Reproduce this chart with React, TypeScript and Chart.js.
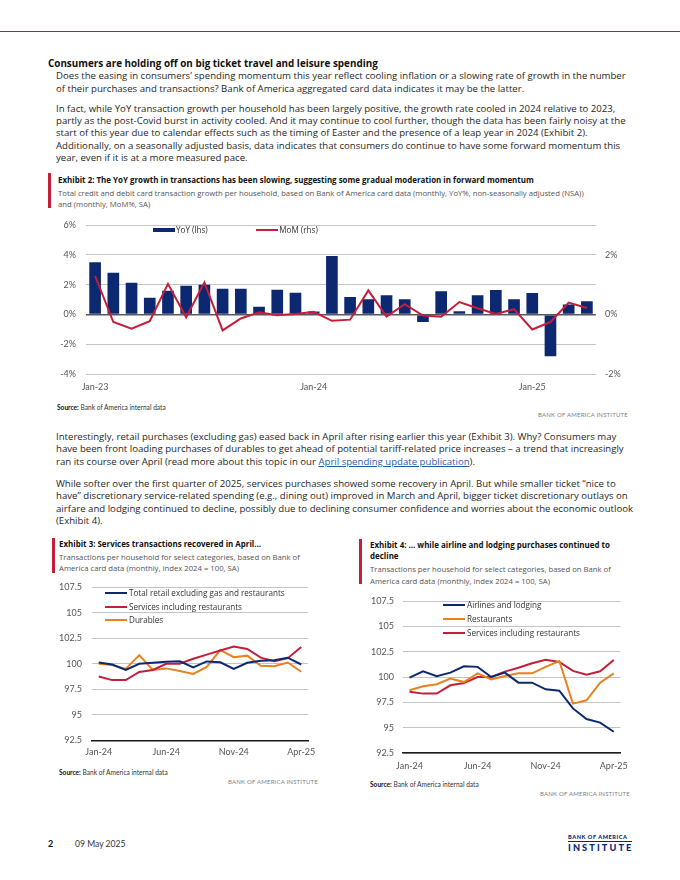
import React, { useEffect, useMemo, useRef } from 'react';
import { Chart, registerables } from 'chart.js';

Chart.register(...registerables);

const FONT = 'Lato, "Noto Sans", sans-serif';
const TFONT = '"Open Sans", "Noto Sans", sans-serif';
const NAVY = '#0b2870';
const RED = '#c41e3a';
const ORANGE = '#e8821e';
const GRID = '#c4c4c4';
const TICK = '#555555';

// ---------- Exhibit 2 data ----------
const ex2Months = [
  'Jan-23', 'Feb-23', 'Mar-23', 'Apr-23', 'May-23', 'Jun-23', 'Jul-23', 'Aug-23', 'Sep-23', 'Oct-23', 'Nov-23', 'Dec-23',
  'Jan-24', 'Feb-24', 'Mar-24', 'Apr-24', 'May-24', 'Jun-24', 'Jul-24', 'Aug-24', 'Sep-24', 'Oct-24', 'Nov-24', 'Dec-24',
  'Jan-25', 'Feb-25', 'Mar-25', 'Apr-25',
];
const ex2YoY = [3.5, 2.8, 2.13, 1.13, 1.6, 1.93, 2.0, 1.73, 1.73, 0.53, 1.67, 1.47, 0.2, 3.93, 1.17, 1.03, 1.3, 1.03, -0.49, 1.57, 0.22, 1.3, 1.64, 1.03, 1.44, -2.79, 0.67, 0.9];
const ex2MoM = [1.3, -0.25, -0.47, -0.22, 1.03, -0.09, 1.08, -0.53, -0.13, 0.08, -0.02, 0.02, 0.09, -0.21, -0.17, 0.81, -0.07, 0.35, -0.03, -0.07, 0.42, 0.21, 0.02, 0.18, -0.5, -0.25, 0.4, 0.22];
const ex2LeftTicks = [-4, -2, 0, 2, 4, 6];
const ex2RightTicks = [-2, 0, 2];

// ---------- Exhibits 3 & 4 data ----------
const idxMonths = [
  'Jan-24', 'Feb-24', 'Mar-24', 'Apr-24', 'May-24', 'Jun-24', 'Jul-24', 'Aug-24', 'Sep-24', 'Oct-24', 'Nov-24', 'Dec-24',
  'Jan-25', 'Feb-25', 'Mar-25', 'Apr-25',
];
const ex3Retail = [100.13, 99.93, 99.4, 100.0, 100.1, 100.2, 100.25, 99.65, 100.23, 100.15, 99.5, 100.1, 100.3, 100.35, 100.6, 99.93];
const ex3Services = [98.75, 98.4, 98.4, 99.2, 99.4, 100.0, 100.0, 100.5, 100.9, 101.3, 101.7, 101.45, 100.6, 100.25, 100.55, 101.65];
const ex3Durables = [100.0, 99.87, 99.5, 100.85, 99.4, 99.55, 99.3, 99.0, 99.7, 101.35, 100.65, 100.8, 99.8, 99.77, 100.13, 99.22];

const ex4Airlines = [99.93, 100.56, 100.07, 100.43, 101.05, 101.0, 100.0, 100.43, 99.44, 99.44, 98.78, 98.65, 96.9, 95.85, 95.5, 94.6];
const ex4Restaurants = [98.7, 99.08, 99.28, 99.84, 99.5, 100.36, 99.77, 100.1, 100.36, 100.36, 101.0, 101.58, 97.37, 97.7, 99.44, 100.36];
const ex4Services = [98.55, 98.36, 98.36, 99.18, 99.4, 100.0, 100.0, 100.53, 100.92, 101.35, 101.7, 101.48, 100.6, 100.23, 100.56, 101.68];

const idxMin = 92.5;
const idxMax = 107.5;
const idxStep = 2.5;

// ---------- Text ----------
const HEADING = 'Consumers are holding off on big ticket travel and leisure spending';
const P1 = [
  'Does the easing in consumers\u2019 spending momentum this year reflect cooling inflation or a slowing rate of growth in the number',
  'of their purchases and transactions? Bank of America aggregated card data indicates it may be the latter.',
];
const P2 = [
  'In fact, while YoY transaction growth per household has been largely positive, the growth rate cooled in 2024 relative to 2023,',
  'partly as the post-Covid burst in activity cooled. And it may continue to cool further, though the data has been fairly noisy at the',
  'start of this year due to calendar effects such as the timing of Easter and the presence of a leap year in 2024 (Exhibit 2).',
  'Additionally, on a seasonally adjusted basis, data indicates that consumers do continue to have some forward momentum this',
  'year, even if it is at a more measured pace.',
];
const P3 = [
  'Interestingly, retail purchases (excluding gas) eased back in April after rising earlier this year (Exhibit 3). Why? Consumers may',
  'have been front loading purchases of durables to get ahead of potential tariff-related price increases \u2013 a trend that increasingly',
];
const P3_END_A = 'ran its course over April (read more about this topic in our ';
const P3_LINK = 'April spending update publication';
const P3_END_B = ').';
const P4 = [
  'While softer over the first quarter of 2025, services purchases showed some recovery in April. But while smaller ticket \u201cnice to',
  'have\u201d discretionary service-related spending (e.g., dining out) improved in March and April, bigger ticket discretionary outlays on',
  'airfare and lodging continued to decline, possibly due to declining consumer confidence and worries about the economic outlook',
  '(Exhibit 4).',
];
const EX2_TITLE = 'Exhibit 2: The YoY growth in transactions has been slowing, suggesting some gradual moderation in forward momentum';
const EX2_SUB = [
  'Total credit and debit card transaction growth per household, based on Bank of America card data (monthly, YoY%, non-seasonally adjusted (NSA))',
  'and (monthly, MoM%, SA)',
];
const EX3_TITLE = 'Exhibit 3: Services transactions recovered in April\u2026';
const EX4_TITLE = ['Exhibit 4: \u2026 while airline and lodging purchases continued to', 'decline'];
const IDX_SUB = [
  'Transactions per household for select categories, based on Bank of',
  'America card data (monthly, index 2024 = 100, SA)',
];
const EX3_LEGEND = ['Total retail excluding gas and restaurants', 'Services including restaurants', 'Durables'];
const EX4_LEGEND = ['Airlines and lodging', 'Restaurants', 'Services including restaurants'];

type Pos = { left: number; top: number; width: number; height: number };

function ChartBox({ pos, make }: { pos: Pos; make: () => any }) {
  const ref = useRef<HTMLCanvasElement | null>(null);
  useEffect(() => {
    if (!ref.current) return;
    const chart = new Chart(ref.current, make());
    return () => chart.destroy();
  }, []);
  return (
    <canvas
      ref={ref}
      width={pos.width}
      height={pos.height}
      style={{ position: 'absolute', left: pos.left, top: pos.top, width: pos.width, height: pos.height }}
    />
  );
}

const tickFont = { family: FONT, size: 9 };

function ex2Config() {
  return {
    type: 'bar',
    data: {
      labels: ex2Months,
      datasets: [
        {
          type: 'line',
          label: 'MoM (rhs)',
          data: ex2MoM,
          yAxisID: 'y1',
          borderColor: RED,
          backgroundColor: RED,
          borderWidth: 2,
          pointRadius: 0,
          tension: 0,
          order: 0,
        },
        {
          type: 'bar',
          label: 'YoY (lhs)',
          data: ex2YoY,
          yAxisID: 'y',
          backgroundColor: NAVY,
          barPercentage: 0.64,
          categoryPercentage: 1,
          order: 1,
        },
      ],
    },
    options: {
      animation: false,
      responsive: false,
      layout: { padding: { top: 10, left: 0, right: 0, bottom: 0 } },
      plugins: { legend: { display: false }, tooltip: { enabled: false } },
      scales: {
        x: {
          grid: { display: false, drawTicks: true, tickLength: 7 },
          border: { display: false },
          ticks: {
            autoSkip: false,
            maxRotation: 0,
            padding: 0,
            font: tickFont,
            color: TICK,
            callback: (_v: any, i: number) => (i % 12 === 0 ? ex2Months[i] : ''),
          },
          afterFit: (s: any) => { s.height = 22.7; },
        },
        y: {
          position: 'left',
          min: ex2LeftTicks[0],
          max: ex2LeftTicks[ex2LeftTicks.length - 1],
          afterBuildTicks: (ax: any) => { ax.ticks = ex2LeftTicks.map((value) => ({ value })); },
          ticks: { padding: 0, font: tickFont, color: TICK, callback: (v: any) => v + '%' },
          grid: {
            drawTicks: true,
            tickLength: 10,
            tickColor: 'rgba(0,0,0,0)',
            color: (c: any) => (c.tick && c.tick.value === 0 ? '#595959' : GRID),
            lineWidth: (c: any) => (c.tick && c.tick.value === 0 ? 1.6 : 1),
          },
          border: { display: false },
          afterFit: (s: any) => { s.width = 36; },
        },
        y1: {
          position: 'right',
          min: -2,
          max: 3,
          afterBuildTicks: (ax: any) => { ax.ticks = ex2RightTicks.map((value) => ({ value })); },
          ticks: { padding: 0, font: tickFont, color: TICK, callback: (v: any) => v + '%' },
          grid: { display: true, drawOnChartArea: false, drawTicks: true, tickLength: 9, tickColor: 'rgba(0,0,0,0)', color: 'rgba(0,0,0,0)' },
          border: { display: false },
          afterFit: (s: any) => { s.width = 34; },
        },
      },
    },
  };
}

function idxConfig(sets: { label: string; data: number[]; color: string }[], yWidth: number, yGap: number, padTop: number, padRight: number, xHeight: number, xGap: number) {
  return {
    type: 'line',
    data: {
      labels: idxMonths,
      datasets: sets.map((s) => ({
        label: s.label,
        data: s.data,
        borderColor: s.color,
        backgroundColor: s.color,
        borderWidth: 2,
        pointRadius: 0,
        tension: 0,
      })),
    },
    options: {
      animation: false,
      responsive: false,
      layout: { padding: { top: padTop, left: 0, right: padRight, bottom: 0 } },
      plugins: { legend: { display: false }, tooltip: { enabled: false } },
      scales: {
        x: {
          offset: true,
          grid: { display: false, drawTicks: true, tickLength: xGap },
          border: { display: true, color: '#1a1a1a', width: 1.6 },
          ticks: {
            autoSkip: false,
            maxRotation: 0,
            padding: 0,
            font: tickFont,
            color: TICK,
            callback: (_v: any, i: number) => (i % 5 === 0 ? idxMonths[i] : ''),
          },
          afterFit: (s: any) => { s.height = xHeight; },
        },
        y: {
          min: idxMin,
          max: idxMax,
          ticks: { stepSize: idxStep, padding: 0, font: tickFont, color: TICK },
          grid: { drawTicks: true, tickLength: yGap, tickColor: 'rgba(0,0,0,0)', color: GRID, lineWidth: 1 },
          border: { display: false },
          afterFit: (s: any) => { s.width = yWidth; },
        },
      },
    },
  };
}

// size a font so that a known line has the width it has in the reference
function fitSize(text: string, weight: number, family: string, target: number, fallback: number) {
  try {
    const ctx = document.createElement('canvas').getContext('2d');
    if (!ctx) return fallback;
    ctx.font = `${weight} 100px ${family}`;
    const w = ctx.measureText(text).width;
    if (!w) return fallback;
    const s = (100 * target) / w;
    return Math.min(Math.max(s, fallback * 0.8), fallback * 1.25);
  } catch (e) {
    return fallback;
  }
}

function T({ x, y, s = 9.2, w = 400, c = '#1f1f1f', f = TFONT, right = false, children, style = {} }: any) {
  const lh = s * 1.25;
  return (
    <div
      style={{
        position: 'absolute',
        left: right ? undefined : x,
        right: right ? 680 - x : undefined,
        top: y - lh / 2,
        fontSize: s,
        lineHeight: `${lh}px`,
        fontWeight: w,
        color: c,
        whiteSpace: 'nowrap',
        fontFamily: f,
        ...style,
      }}
    >
      {children}
    </div>
  );
}

function RedBar({ x, y, h }: { x: number; y: number; h: number }) {
  return <div style={{ position: 'absolute', left: x, top: y, width: 3, height: h, background: '#c41e3a' }} />;
}

function LegendLine({ x, y, color, label, s, w = 22 }: any) {
  return (
    <>
      <div style={{ position: 'absolute', left: x, top: y - 1, width: w, height: 2, background: color }} />
      <T x={x + w + 2} y={y} s={s} c="#333">{label}</T>
    </>
  );
}

const LH = 12.3;

export default function App() {
  const sz = useMemo(() => {
    const body = fitSize(P1[0], 400, TFONT, 570.5, 9.3);
    const head = fitSize(HEADING, 700, TFONT, 330, 10);
    const title = (fitSize(EX2_TITLE, 700, TFONT, 472, 8.6) + fitSize(EX3_TITLE, 700, TFONT, 204, 8.6)) / 2;
    const sub = (fitSize(EX2_SUB[0], 400, TFONT, 529, 8.3) + fitSize(IDX_SUB[0], 400, TFONT, 240, 8.3)) / 2;
    const leg = fitSize(EX3_LEGEND[0], 400, TFONT, 156, 8.6);
    return { body, head, title, sub, leg };
  }, []);

  const src = (x: number, y: number) => (
    <T x={x} y={y} s={6.6} c="#333" f={FONT}>
      <span style={{ fontWeight: 700, color: '#111' }}>Source:</span> Bank of America internal data
    </T>
  );
  const inst = (x: number, y: number) => (
    <T x={x} y={y} s={6} c="#808080" f={FONT} right style={{ letterSpacing: 0.2 }}>BANK OF AMERICA INSTITUTE</T>
  );
  return (
    <div style={{ position: 'absolute', left: 0, top: 0, width: 680, height: 880, background: '#fff', overflow: 'hidden', fontFamily: TFONT }}>
      <div style={{ position: 'absolute', left: 0, top: 31, width: 680, height: 1, background: '#a3283e' }} />

      <T x={48} y={63} s={sz.head} w={700} c="#111">{HEADING}</T>
      {P1.map((l, i) => <T key={'p1' + i} x={56} y={76.3 + i * LH} s={sz.body}>{l}</T>)}
      {P2.map((l, i) => <T key={'p2' + i} x={56} y={108.7 + i * LH} s={sz.body}>{l}</T>)}

      {/* Exhibit 2 */}
      <RedBar x={48} y={173} h={35} />
      <T x={58} y={180.7} s={sz.title} w={700} c="#111">{EX2_TITLE}</T>
      {EX2_SUB.map((l, i) => <T key={'s2' + i} x={58} y={193.5 + i * 11.5} s={sz.sub} c="#555">{l}</T>)}
      <ChartBox pos={{ left: 50, top: 215, width: 580, height: 182 }} make={ex2Config} />
      <div style={{ position: 'absolute', left: 153.3, top: 227.7, width: 21.7, height: 4, background: NAVY }} />
      <T x={176} y={229.8} s={sz.leg} c="#333">YoY (lhs)</T>
      <div style={{ position: 'absolute', left: 256, top: 228.8, width: 22.3, height: 2, background: RED }} />
      <T x={279.3} y={229.8} s={sz.leg} c="#333">MoM (rhs)</T>
      {src(57, 407.3)}
      {inst(628, 415)}

      {P3.map((l, i) => <T key={'p3' + i} x={56} y={437 + i * LH} s={sz.body}>{l}</T>)}
      <T x={56} y={437 + 2 * LH} s={sz.body}>
        {P3_END_A}
        <span style={{ color: '#1f5fa8', textDecoration: 'underline' }}>{P3_LINK}</span>
        {P3_END_B}
      </T>
      {P4.map((l, i) => <T key={'p4' + i} x={56} y={484 + i * LH} s={sz.body}>{l}</T>)}

      {/* Exhibit 3 */}
      <RedBar x={52} y={538} h={35} />
      <T x={59} y={545} s={sz.title} w={700} c="#111">{EX3_TITLE}</T>
      {IDX_SUB.map((l, i) => <T key={'s3' + i} x={59} y={557.5 + i * 11.8} s={sz.sub} c="#555">{l}</T>)}
      <ChartBox
        pos={{ left: 50, top: 580, width: 266, height: 180 }}
        make={() =>
          idxConfig(
            [
              { label: EX3_LEGEND[0], data: ex3Retail, color: NAVY },
              { label: EX3_LEGEND[1], data: ex3Services, color: RED },
              { label: EX3_LEGEND[2], data: ex3Durables, color: ORANGE },
            ],
            42, 10, 7.3, 8, 19.7, 6.3,
          )
        }
      />
      <LegendLine x={105} y={593.3} color={NAVY} label={EX3_LEGEND[0]} s={sz.leg} />
      <LegendLine x={105} y={607} color={RED} label={EX3_LEGEND[1]} s={sz.leg} />
      <LegendLine x={105} y={620.3} color={ORANGE} label={EX3_LEGEND[2]} s={sz.leg} />
      {src(59, 772)}
      {inst(318, 782)}

      {/* Exhibit 4 */}
      <RedBar x={359} y={539} h={45} />
      {EX4_TITLE.map((l, i) => <T key={'t4' + i} x={370} y={545.5 + i * 11.5} s={sz.title} w={700} c="#111">{l}</T>)}
      {IDX_SUB.map((l, i) => <T key={'s4' + i} x={370} y={570 + i * 11.8} s={sz.sub} c="#555">{l}</T>)}
      <ChartBox
        pos={{ left: 355, top: 594, width: 273, height: 180 }}
        make={() =>
          idxConfig(
            [
              { label: EX4_LEGEND[0], data: ex4Airlines, color: NAVY },
              { label: EX4_LEGEND[1], data: ex4Restaurants, color: ORANGE },
              { label: EX4_LEGEND[2], data: ex4Services, color: RED },
            ],
            47.7, 8.7, 7, 7.3, 21, 7.3,
          )
        }
      />
      <LegendLine x={443} y={604.7} color={NAVY} label={EX4_LEGEND[0]} s={sz.leg} />
      <LegendLine x={443} y={619} color={ORANGE} label={EX4_LEGEND[1]} s={sz.leg} />
      <LegendLine x={443} y={632.7} color={RED} label={EX4_LEGEND[2]} s={sz.leg} />
      {src(370, 784.5)}
      {inst(630, 794)}

      {/* Footer */}
      <T x={48} y={844} s={9} w={700} c="#111" f={FONT}>2</T>
      <T x={75} y={844} s={8.6} c="#333" f={FONT}>09 May 2025</T>
      <T x={568} y={836.5} s={5.6} w={900} c="#0b2870" f={FONT} style={{ letterSpacing: 0.55 }}>BANK OF AMERICA</T>
      <div style={{ position: 'absolute', left: 568, top: 841, width: 64, height: 1, background: '#0b2870' }} />
      <T x={568} y={848} s={9.2} w={900} c="#0b2870" f={FONT} style={{ letterSpacing: 2.1 }}>INSTITUTE</T>
    </div>
  );
}
